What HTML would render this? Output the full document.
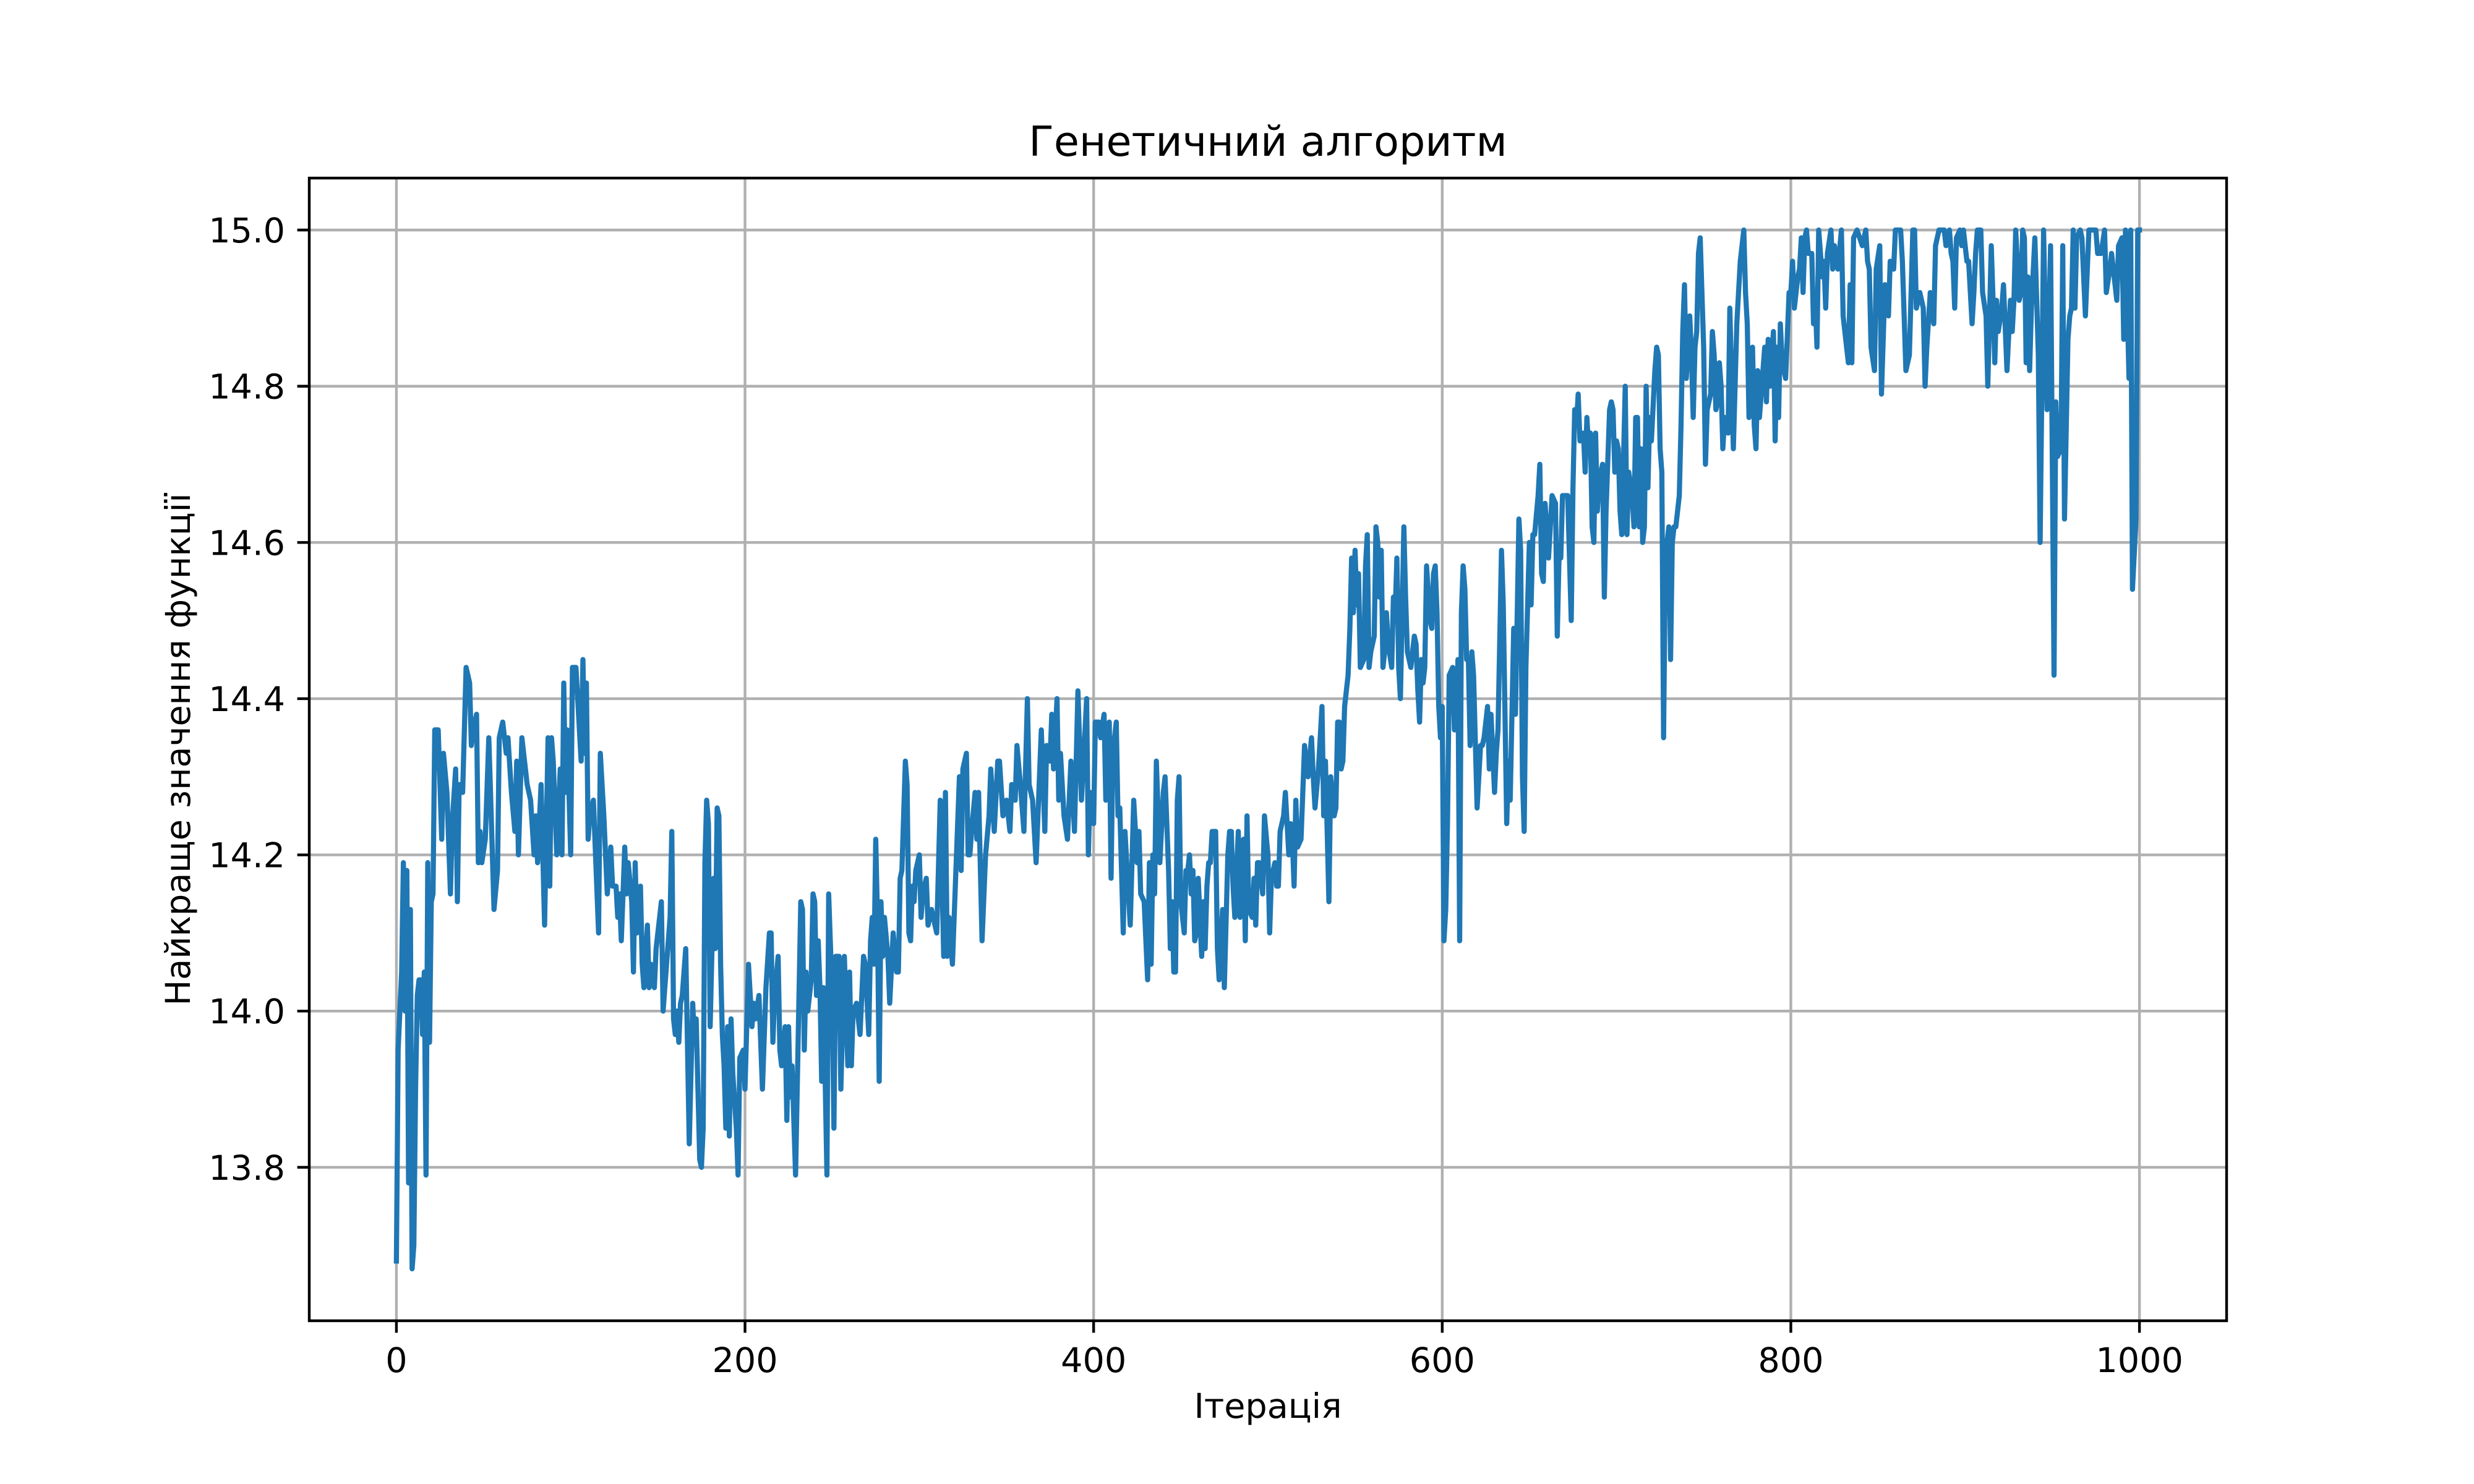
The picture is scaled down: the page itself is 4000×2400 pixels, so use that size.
<!DOCTYPE html>
<html><head><meta charset="utf-8"><style>
html,body{margin:0;padding:0;background:#fff;}
svg{display:block;font-family:"DejaVu Sans","Liberation Sans",sans-serif;}
</style></head><body>
<svg id="chart" width="4000" height="2400" viewBox="0 0 4000 2400" xmlns="http://www.w3.org/2000/svg">
<rect x="0" y="0" width="4000" height="2400" fill="#ffffff"/>
<g id="grid"></g>
<g id="series"></g>
<g id="axes"></g>
<text x="2050" y="252" text-anchor="middle" font-size="66.7" fill="#000">Генетичний алгоритм</text>
<text x="2050" y="2293" text-anchor="middle" font-size="55.6" fill="#000">Ітерація</text>
<text x="0" y="0" transform="translate(307,1212) rotate(-90)" text-anchor="middle" font-size="55.6" fill="#000">Найкраще значення функції</text>
</svg>
<script>
const iters = [0,1,2,3,4,5,6,7,8,9,10,11,12,13,14,15,16,17,18,19,20,21,
22,24,26,27,29,31,32,34,35,36,38,40,42,43,44,46,47,48,49,51,53,54,56,58,59,61,63,64,66,68,69,70,72,74,75,77,79,80,81,83,85,87,88,89,90,92,94,95,96,97,98,100,101,103,106,107,108,109,110,111,113,116,117,119,121,123,124,126,127,128,129,131,132,133,135,136,137,138,140,141,142,144,145,146,148,149,152,153,155,157,158,159,160,161,162,163,164,166,168,170,171,172,174,175,176,177,178,179,180,182,183,184,185,186,187,188,189,190,191,192,193,195,196,197,199,200,202,204,205,206,208,210,212,214,215,216,
217,219,220,221,223,224,225,226,227,229,232,233,234,235,236,238,239,240,241,242,243,244,245,247,248,250,251,252,254,255,257,259,260,261,262,264,266,268,269,271,272,273,274,275,276,277,278,279,280,282,283,285,287,288,289,290,292,293,294,295,296,297,298,300,301,302,304,305,307,308,310,312,314,315,316,317,319,321,323,324,325,327,328,329,330,332,333,334,336,338,340,341,343,345,346,348,350,352,353,355,356,358,360,362,363,365,367,370,372,373,375,376,377,379,380,381,383,385,387,389,391,393,396,397,398,400,401,403,404,406,407,409,410,411,413,414,415,417,418,420,421,423,425,426,427,429,431,432,433,434,435,436,438,440,441,443,444,445,446,
447,448,449,450,452,453,454,455,456,457,458,459,460,462,463,464,465,466,467,468,470,471,472,474,475,477,478,479,480,481,483,484,486,487,488,489,491,492,493,494,495,497,498,500,501,502,504,505,506,507,509,510,512,513,514,515,516,517,519,520,521,522,523,525,526,527,529,531,532,533,535,536,538,539,540,541,542,543,544,546,547,548,549,550,551,552,553,555,556,557,558,559,561,562,563,564,565,566,567,568,569,571,572,573,574,575,576,578,579,580,582,584,585,586,587,588,589,590,591,593,594,595,596,597,598,599,600,601,602,603,604,606,607,608,609,610,611,612,613,614,615,616,617,618,620,622,623,624,626,627,628,630,631,632,634,635,637,638,639,641,642,644,645,646,647,648,650,651,652,653,655,656,657,658,659,661,663,665,666,667,668,669,671,672,674,675,676,
677,678,679,681,682,683,684,685,686,687,688,689,690,692,693,694,696,697,698,699,700,701,702,703,705,706,707,709,710,711,712,713,714,715,716,717,718,719,720,722,723,724,725,726,727,728,730,731,732,733,734,736,737,738,739,740,742,743,744,745,746,747,748,750,751,752,754,755,756,757,758,759,760,761,762,764,765,767,769,770,771,773,774,775,776,777,778,779,780,781,782,785,786,787,788,790,791,792,793,794,795,797,799,800,801,802,804,805,806,807,808,809,810,812,813,814,815,816,818,819,820,821,823,824,825,827,829,830,832,833,834,835,836,838,841,843,844,845,846,848,849,851,852,854,856,857,859,860,863,864,866,868,870,871,872,874,876,877,878,880,882,883,885,888,889,891,892,893,894,895,897,898,899,901,902,904,905,906,907,
909,910,912,913,915,916,917,918,919,921,922,924,926,927,928,929,931,932,933,934,935,936,937,938,940,942,943,945,947,949,951,952,953,955,956,957,959,960,961,962,963,964,966,967,969,971,975,976,978,980,981,983,984,985,987,988,990,991,992,994,995,996,998,999,1000];
const vals = [13.68,13.95,14.0,14.05,14.19,14.0,14.18,13.78,14.13,13.67,13.7,13.9,14.02,14.04,14.04,13.97,14.05,13.79,14.19,13.96,14.14,14.15,
14.36,14.36,14.22,14.33,14.28,14.15,14.24,14.31,14.14,14.29,14.28,14.44,14.42,14.34,14.36,14.38,14.19,14.23,14.19,14.22,14.35,14.28,14.13,14.18,14.35,14.37,14.33,14.35,14.28,14.23,14.32,14.2,14.35,14.31,14.29,14.27,14.2,14.25,14.19,14.29,14.11,14.35,14.16,14.35,14.32,14.2,14.31,14.2,14.42,14.28,14.36,14.2,14.44,14.44,14.32,14.45,14.33,14.42,14.22,14.25,14.27,14.1,14.33,14.25,14.15,14.21,14.16,14.16,14.12,14.15,14.09,14.21,14.15,14.19,14.14,14.05,14.19,14.1,14.16,14.06,14.03,14.11,14.03,14.06,14.03,14.08,14.14,14.0,14.06,14.12,14.23,13.99,13.97,14.0,13.96,14.01,14.02,14.08,13.83,14.01,13.96,13.99,13.81,13.8,13.85,14.19,14.27,14.24,13.98,14.17,14.08,14.26,14.25,14.06,13.97,13.93,13.85,13.98,13.84,13.99,13.92,13.85,13.79,13.94,13.95,13.9,14.06,13.98,14.01,13.99,14.02,13.9,14.03,14.1,14.1,13.96,
14.02,14.07,13.95,13.93,13.98,13.86,13.98,13.89,13.93,13.79,14.14,14.13,13.95,14.05,14.0,14.04,14.15,14.14,14.02,14.09,14.03,13.91,14.03,13.79,14.15,14.02,13.85,14.07,14.07,13.9,14.07,13.93,14.05,13.93,14.0,14.01,13.97,14.07,14.06,13.97,14.09,14.12,14.06,14.22,14.12,13.91,14.14,14.07,14.12,14.07,14.01,14.1,14.05,14.05,14.17,14.18,14.32,14.29,14.1,14.09,14.16,14.14,14.18,14.2,14.12,14.15,14.17,14.11,14.13,14.12,14.1,14.27,14.07,14.28,14.07,14.12,14.06,14.18,14.3,14.18,14.31,14.33,14.2,14.2,14.23,14.28,14.22,14.28,14.09,14.2,14.25,14.31,14.23,14.32,14.32,14.25,14.27,14.23,14.29,14.27,14.34,14.29,14.23,14.4,14.29,14.27,14.19,14.36,14.23,14.34,14.32,14.38,14.31,14.4,14.27,14.33,14.25,14.22,14.32,14.23,14.41,14.27,14.4,14.2,14.28,14.24,14.37,14.37,14.35,14.38,14.27,14.37,14.17,14.33,14.37,14.25,14.26,14.1,14.23,14.15,14.11,14.27,14.19,14.23,14.15,14.14,14.04,14.19,14.06,14.2,14.15,14.32,14.19,14.28,14.3,14.18,14.08,14.14,14.05,
14.05,14.27,14.3,14.14,14.1,14.18,14.18,14.2,14.15,14.18,14.09,14.1,14.17,14.07,14.14,14.08,14.16,14.19,14.19,14.23,14.23,14.08,14.04,14.13,14.03,14.2,14.23,14.23,14.16,14.12,14.23,14.12,14.22,14.09,14.25,14.13,14.12,14.17,14.11,14.19,14.19,14.15,14.25,14.2,14.1,14.17,14.19,14.16,14.16,14.23,14.25,14.28,14.2,14.24,14.22,14.16,14.27,14.21,14.22,14.28,14.34,14.32,14.3,14.35,14.3,14.26,14.31,14.39,14.25,14.32,14.14,14.3,14.25,14.26,14.37,14.37,14.31,14.32,14.39,14.43,14.49,14.58,14.51,14.59,14.52,14.56,14.44,14.45,14.57,14.61,14.44,14.46,14.48,14.62,14.6,14.53,14.59,14.44,14.46,14.51,14.47,14.44,14.53,14.51,14.58,14.44,14.4,14.62,14.53,14.46,14.44,14.48,14.47,14.41,14.37,14.45,14.42,14.44,14.57,14.5,14.49,14.56,14.57,14.51,14.39,14.35,14.39,14.09,14.13,14.24,14.43,14.44,14.36,14.36,14.45,14.09,14.51,14.57,14.54,14.45,14.45,14.34,14.46,14.43,14.26,14.34,14.34,14.35,14.39,14.31,14.38,14.28,14.33,14.36,14.59,14.52,14.24,14.32,14.27,14.49,14.38,14.63,14.59,14.3,14.23,14.44,14.6,14.52,14.61,14.61,14.66,14.7,14.56,14.55,14.65,14.58,14.66,14.65,14.48,14.58,14.58,14.66,14.66,14.66,14.5,14.67,14.77,
14.75,14.79,14.73,14.74,14.69,14.76,14.72,14.74,14.62,14.6,14.74,14.64,14.68,14.7,14.53,14.64,14.77,14.78,14.77,14.69,14.73,14.72,14.64,14.61,14.8,14.61,14.69,14.66,14.62,14.76,14.76,14.62,14.72,14.6,14.62,14.8,14.67,14.76,14.73,14.82,14.85,14.84,14.72,14.69,14.35,14.58,14.62,14.45,14.6,14.62,14.62,14.66,14.75,14.87,14.93,14.81,14.89,14.84,14.76,14.85,14.87,14.97,14.99,14.85,14.7,14.77,14.79,14.87,14.84,14.77,14.78,14.83,14.8,14.72,14.76,14.74,14.9,14.72,14.88,14.92,14.96,15.0,14.92,14.88,14.76,14.77,14.85,14.75,14.72,14.82,14.76,14.85,14.78,14.86,14.8,14.87,14.73,14.85,14.76,14.88,14.83,14.81,14.92,14.92,14.96,14.9,14.94,14.95,14.99,14.92,14.99,15.0,14.97,14.97,14.88,14.91,14.85,15.0,14.94,14.96,14.9,14.97,15.0,14.95,14.98,14.95,15.0,14.89,14.85,14.83,14.93,14.83,14.99,15.0,14.98,15.0,14.96,14.95,14.85,14.82,14.95,14.98,14.79,14.93,14.89,14.96,14.95,15.0,15.0,14.96,14.82,14.84,15.0,15.0,14.9,14.92,14.9,14.8,14.85,14.92,14.88,14.98,15.0,15.0,14.98,15.0,14.97,14.96,14.9,14.99,15.0,14.98,15.0,14.96,14.96,14.88,14.92,14.97,15.0,
15.0,14.92,14.89,14.8,14.98,14.91,14.83,14.91,14.87,14.9,14.93,14.82,14.91,14.87,14.91,15.0,14.91,14.92,15.0,14.99,14.83,14.94,14.82,14.9,14.99,14.84,14.6,15.0,14.77,14.98,14.43,14.78,14.71,14.72,14.98,14.63,14.86,14.89,14.9,15.0,14.9,14.99,15.0,14.99,14.89,15.0,15.0,14.97,14.97,15.0,14.92,14.95,14.97,14.95,14.91,14.98,14.99,14.86,15.0,14.81,15.0,14.54,14.63,15.0,15.0];
const xTicks = [0,200,400,600,800,1000];
const yTicks = [13.8,14.0,14.2,14.4,14.6,14.8,15.0];
const yTickLabels = ["13.8","14.0","14.2","14.4","14.6","14.8","15.0"];

const NS = "http://www.w3.org/2000/svg";
const L = 500, R = 3600, T = 288, B = 2136;
const xmin0 = Math.min(...iters), xmax0 = Math.max(...iters);
const ymin0 = Math.min(...vals), ymax0 = Math.max(...vals);
const xp = (xmax0 - xmin0) * 0.05, yp = (ymax0 - ymin0) * 0.05;
const xlo = xmin0 - xp, xhi = xmax0 + xp, ylo = ymin0 - yp, yhi = ymax0 + yp;
function sx(v){ return L + (v - xlo) / (xhi - xlo) * (R - L); }
function sy(v){ return B - (v - ylo) / (yhi - ylo) * (B - T); }
function mk(tag, attrs, parent){ const e = document.createElementNS(NS, tag); for (const k in attrs) e.setAttribute(k, attrs[k]); parent.appendChild(e); return e; }

const grid = document.getElementById('grid');
const axes = document.getElementById('axes');
const series = document.getElementById('series');

xTicks.forEach(function(t){
  const x = sx(t);
  const g = mk('line', {x1:x, x2:x, y1:T, y2:B, stroke:'#b0b0b0', 'stroke-width':4.4}, grid);
  
  
  const tk = mk('line', {x1:x, x2:x, y1:B, y2:B+19.4, stroke:'#000', 'stroke-width':4.4}, axes);
  
  
  const lb = mk('text', {x:x, y:B+83, 'text-anchor':'middle', 'font-size':55.6, fill:'#000'}, axes);
  lb.textContent = String(t);
  
  
});
yTicks.forEach(function(t, i){
  const y = sy(t);
  const g = mk('line', {x1:L, x2:R, y1:y, y2:y, stroke:'#b0b0b0', 'stroke-width':4.4}, grid);
  
  
  const tk = mk('line', {x1:L-19.4, x2:L, y1:y, y2:y, stroke:'#000', 'stroke-width':4.4}, axes);
  
  
  const lb = mk('text', {x:L-39, y:y+20, 'text-anchor':'end', 'font-size':55.6, fill:'#000'}, axes);
  lb.textContent = yTickLabels[i];
  
  
});
const frame = mk('rect', {x:L, y:T, width:R-L, height:B-T, fill:'none', stroke:'#000', 'stroke-width':4.4}, axes);



let d = '';
iters.forEach(function(it, i){ d += (i ? 'L' : 'M') + sx(it).toFixed(1) + ',' + sy(vals[i]).toFixed(1); });
const path = mk('path', {d:d, fill:'none', stroke:'#1f77b4', 'stroke-width':8.3, 'stroke-linejoin':'round', 'stroke-linecap':'square'}, series);


</script>
</body></html>
